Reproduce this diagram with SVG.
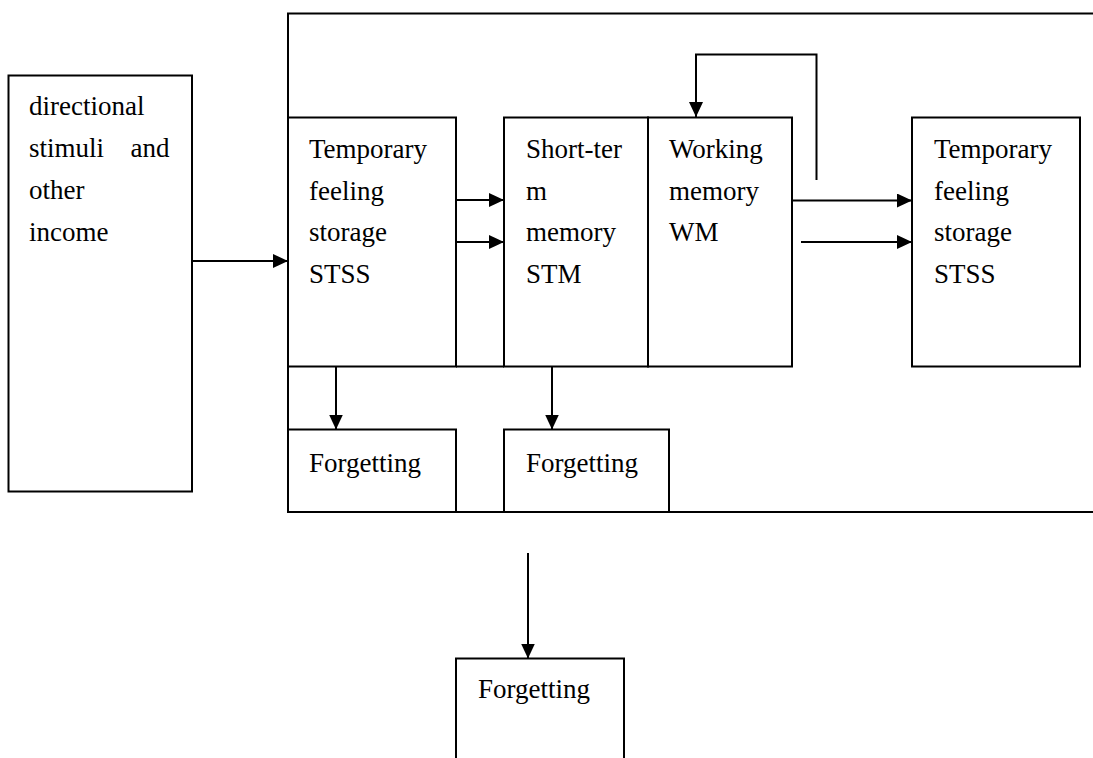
<svg xmlns="http://www.w3.org/2000/svg" width="1093" height="758" viewBox="0 0 1093 758">
<style>
.box{fill:none;stroke:#000;stroke-width:2}
.ln{fill:none;stroke:#000;stroke-width:2}
.t{font-family:"Liberation Serif","Times New Roman",serif;font-size:27px;fill:#000}
</style>
<defs>
<marker id="ah" markerUnits="userSpaceOnUse" markerWidth="16" markerHeight="14" refX="15" refY="7" orient="auto">
<path d="M0,0 L15,7 L0,14 z" fill="#000"/>
</marker>
</defs>
<rect width="1093" height="758" fill="#fff"/>
<g id="outer">
<path class="box" d="M1093,13.5 H288 V512 H1093"/>
</g>
<g id="input">
<rect class="box" x="8.5" y="75.5" width="183.5" height="416"/>
<text class="t" x="29" y="115">directional</text>
<text class="t" y="157"><tspan x="29">stimuli</tspan><tspan x="130.5">and</tspan></text>
<text class="t" x="29" y="199">other</text>
<text class="t" x="29" y="241">income</text>
</g>
<g id="stss1">
<rect class="box" x="288" y="117.5" width="168" height="249"/>
<text class="t" x="309" y="158">Temporary</text>
<text class="t" x="309" y="199.5">feeling</text>
<text class="t" x="309" y="241">storage</text>
<text class="t" x="309" y="282.5">STSS</text>
</g>
<g id="stm">
<rect class="box" x="504" y="117.5" width="144" height="249"/>
<text class="t" x="526" y="158">Short-ter</text>
<text class="t" x="526" y="199.5">m</text>
<text class="t" x="526" y="241">memory</text>
<text class="t" x="526" y="282.5">STM</text>
</g>
<g id="wm">
<rect class="box" x="648" y="117.5" width="144" height="249"/>
<text class="t" x="669" y="158">Working</text>
<text class="t" x="669" y="199.5">memory</text>
<text class="t" x="669" y="241">WM</text>
</g>
<g id="stss2">
<rect class="box" x="912" y="117.5" width="168" height="249"/>
<text class="t" x="934" y="158">Temporary</text>
<text class="t" x="934" y="199.5">feeling</text>
<text class="t" x="934" y="241">storage</text>
<text class="t" x="934" y="282.5">STSS</text>
</g>
<g id="forget1">
<rect class="box" x="288" y="429.5" width="168" height="82.5"/>
<text class="t" x="309" y="471.5">Forgetting</text>
</g>
<g id="forget2">
<rect class="box" x="504" y="429.5" width="165" height="82.5"/>
<text class="t" x="526" y="471.5">Forgetting</text>
</g>
<g id="forget3">
<path class="box" d="M456,760 V658.5 H624 V760"/>
<text class="t" x="478" y="698">Forgetting</text>
</g>
<g id="connectors">
<line class="ln" x1="456" y1="366.5" x2="504" y2="366.5"/>
<line class="ln" x1="192" y1="261" x2="288" y2="261" marker-end="url(#ah)"/>
<line class="ln" x1="456" y1="200" x2="504" y2="200" marker-end="url(#ah)"/>
<line class="ln" x1="456" y1="242" x2="504" y2="242" marker-end="url(#ah)"/>
<line class="ln" x1="792" y1="200.5" x2="912" y2="200.5" marker-end="url(#ah)"/>
<line class="ln" x1="801" y1="242" x2="912" y2="242" marker-end="url(#ah)"/>
<path class="ln" d="M816.5,180 V54.5 H696 V117" marker-end="url(#ah)"/>
<line class="ln" x1="336" y1="366.5" x2="336" y2="429.5" marker-end="url(#ah)"/>
<line class="ln" x1="552" y1="366.5" x2="552" y2="429.5" marker-end="url(#ah)"/>
<line class="ln" x1="528" y1="553" x2="528" y2="658.5" marker-end="url(#ah)"/>
</g>
</svg>
